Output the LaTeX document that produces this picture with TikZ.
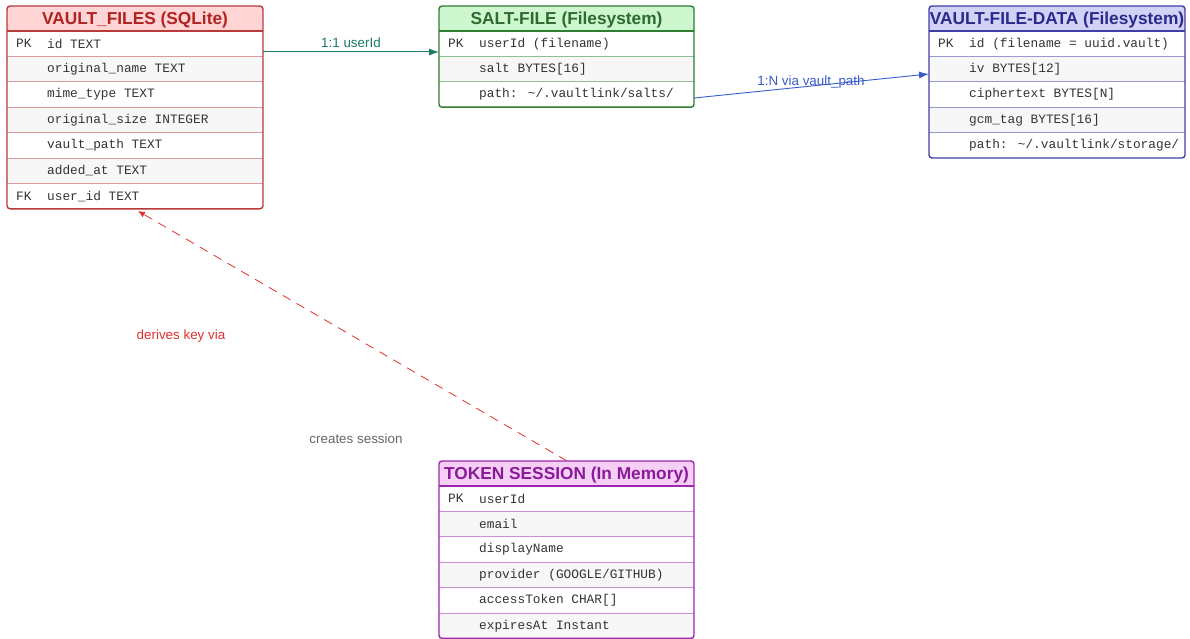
\documentclass[tikz,border=0pt]{standalone}
\usepackage{fontspec}
\setmainfont{Liberation Sans}
\newfontfamily\erMono{Liberation Mono}
\usetikzlibrary{arrows.meta}
\definecolor{redline}{HTML}{B83A3A}
\definecolor{redfill}{HTML}{FFD4D4}
\definecolor{redtext}{HTML}{B22222}
\definecolor{redsep}{HTML}{D89A9A}
\definecolor{greenline}{HTML}{2E7D32}
\definecolor{greenfill}{HTML}{CFF7CF}
\definecolor{greentext}{HTML}{2E6B2E}
\definecolor{greensep}{HTML}{8FC08F}
\definecolor{blueline}{HTML}{3F3FA6}
\definecolor{bluefill}{HTML}{D2D2F7}
\definecolor{bluetext}{HTML}{2A2A8C}
\definecolor{bluesep}{HTML}{9A9AD0}
\definecolor{purpleline}{HTML}{9C27B0}
\definecolor{purplefill}{HTML}{F6CFF6}
\definecolor{purpletext}{HTML}{8B1A9B}
\definecolor{purplesep}{HTML}{CC8FD6}
\definecolor{rowgray}{HTML}{F7F7F7}
\definecolor{rowtext}{HTML}{333333}
\definecolor{tealc}{HTML}{1B7A66}
\definecolor{bluec}{HTML}{3A5CC8}
\definecolor{redc}{HTML}{E03030}
\definecolor{greyc}{HTML}{666666}
\tikzset{
  rowtxt/.style={anchor=west, inner sep=0pt, text=rowtext, font=\erMono\fontsize{12.8}{14}\selectfont},
  titletxt/.style={inner sep=0pt, font=\bfseries\fontsize{17.3}{19}\selectfont},
  lbl/.style={inner sep=1pt, font=\fontsize{13.4}{15}\selectfont},
  reltip/.style={-{Latex[length=10pt,width=7pt]}},
}
\newcommand\ertable[7]{% #1 name, #2 x, #3 y, #4 width, #5 rows, #6 colour, #7 title
  \pgfmathsetmacro\tabh{25+25.4*#5}
  \begin{scope}
    \clip[rounded corners=3pt] (#2,#3) rectangle ++(#4,\tabh);
    \fill[#6fill] (#2,#3) rectangle ++(#4,25);
    \foreach \i in {1,...,#5} {
      \ifodd\i\else
        \fill[rowgray] (#2,{#3+25+25.4*(\i-1)}) rectangle ++(#4,25.4);
      \fi
    }
    \node[titletxt, text=#6text] (#1-title) at ({#2+#4/2},{#3+14.5}) {#7};
  \end{scope}
  \foreach \i in {2,...,#5} {
    \draw[#6sep, line width=0.8pt] (#2,{#3+25+25.4*(\i-1)}) -- ++(#4,0);
  }
  \draw[#6line, line width=1.2pt] (#2,{#3+25}) -- ++(#4,0);
  \node[draw=#6line, line width=1.4pt, rounded corners=3pt, anchor=north west,
        minimum width=#4pt, minimum height=\tabh pt, inner sep=0pt, outer sep=0pt]
        (#1) at (#2,#3) {};
}
\newcommand\errow[4]{% #1 table, #2 index, #3 key, #4 text
  \node[rowtxt] (#1-k#2) at ([shift={(9,{25+25.4*(#2-0.5)})}]#1.north west) {#3};
  \node[rowtxt] (#1-t#2) at ([shift={(40,{25+25.4*(#2-0.5)})}]#1.north west) {#4};
}
\begin{document}
\begin{tikzpicture}[x=1pt,y=-1pt]
\useasboundingbox[fill=white] (0,0) rectangle (1190,639);

% VAULT_FILES
\ertable{vf}{7}{6}{256}{7}{red}{VAULT\_FILES (SQLite)}
\errow{vf}{1}{PK}{id TEXT}
\errow{vf}{2}{}{original\_name TEXT}
\errow{vf}{3}{}{mime\_type TEXT}
\errow{vf}{4}{}{original\_size INTEGER}
\errow{vf}{5}{}{vault\_path TEXT}
\errow{vf}{6}{}{added\_at TEXT}
\errow{vf}{7}{FK}{user\_id TEXT}

% SALT-FILE
\ertable{sf}{439}{6}{255}{3}{green}{SALT-FILE (Filesystem)}
\errow{sf}{1}{PK}{userId (filename)}
\errow{sf}{2}{}{salt BYTES[16]}
\errow{sf}{3}{}{path: \textasciitilde/.vaultlink/salts/}

% VAULT-FILE-DATA
\ertable{vd}{929}{6}{256}{5}{blue}{VAULT-FILE-DATA (Filesystem)}
\errow{vd}{1}{PK}{id (filename = uuid.vault)}
\errow{vd}{2}{}{iv BYTES[12]}
\errow{vd}{3}{}{ciphertext BYTES[N]}
\errow{vd}{4}{}{gcm\_tag BYTES[16]}
\errow{vd}{5}{}{path: \textasciitilde/.vaultlink/storage/}

% TOKEN SESSION
\ertable{ts}{439}{461}{255}{6}{purple}{TOKEN SESSION (In Memory)}
\errow{ts}{1}{PK}{userId}
\errow{ts}{2}{}{email}
\errow{ts}{3}{}{displayName}
\errow{ts}{4}{}{provider (GOOGLE/GITHUB)}
\errow{ts}{5}{}{accessToken CHAR[]}
\errow{ts}{6}{}{expiresAt Instant}

% connectors
\coordinate (c1a) at (vf.east |- 0,52);
\coordinate (c1b) at (sf.west |- 0,52);
\draw[tealc, line width=1pt, reltip] (c1a) -- (c1b);
\node[lbl, text=tealc] (l1) at (351,43) {1:1 userId};

\coordinate (c2a) at (sf.east |- 0,98);
\coordinate (c2b) at (vd.west |- 0,74);
\draw[bluec, line width=0.9pt, reltip] (c2a) -- (c2b);
\node[lbl, text=bluec] (l2) at (811,82) {1:N via vault\_path};

\coordinate (c3a) at (567,461);
\coordinate (c3b) at (138,211);
\draw[redc, line width=0.8pt, dash pattern=on 9pt off 7pt, -{Latex[length=7pt,width=6pt]}] (c3a) -- (c3b);
\node[lbl, text=redc] (l3) at (181,336) {derives key via};
\node[lbl, text=greyc] (l4) at (356,439) {creates session};
\end{tikzpicture}
\end{document}
